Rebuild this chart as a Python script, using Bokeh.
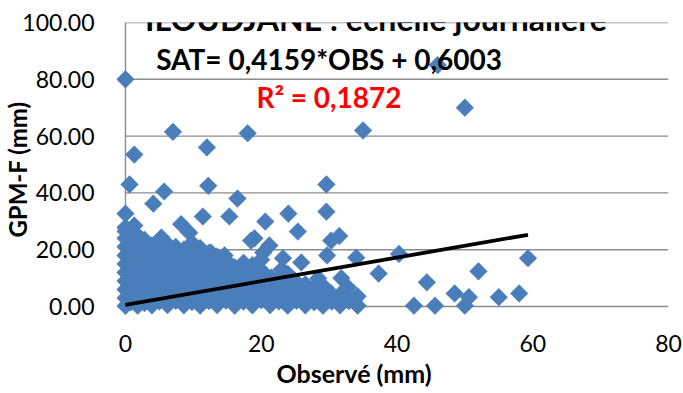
import numpy as np
from bokeh.plotting import figure
from bokeh.models import Range1d, Label, NumeralTickFormatter, FixedTicker, ColumnDataSource, Title
from bokeh.embed import file_html
from bokeh.resources import INLINE

# ---------------- data ----------------
TITLE = "ILOUDJANE : échelle journalière"
X_LABEL = "Observé (mm)"
Y_LABEL = "GPM-F (mm)"
EQ_TEXT = "SAT= 0,4159*OBS + 0,6003"
R2_TEXT = "R² = 0,1872"
SLOPE = 0.4159
INTERCEPT = 0.6003
X_TICKS = [0, 20, 40, 60, 80]
Y_TICKS = [0, 20, 40, 60, 80, 100]

# isolated points
obs_outer = [0, 46, 50, 35, 7, 18, 12, 1.3, 0.6, 29.6, 12.2, 5.7, 16.5, 4.1, 0, 15.3, 24, 29.6,
             20.6, 25.4, 8.2, 11.4, 9.4, 19, 21.2, 31.5, 30.3, 29.7, 34, 37.3, 40.3, 25.9, 23.2,
             23, 31.8, 33.7, 30.3, 44.4, 42.5, 45.6, 48.5, 50.6, 50, 52, 55, 58, 59.3, 20.3,
             32.8, 28.4, 27.6, 24.9, 21.5, 0, 1.3, 5.3, 18.5, 12.6, 14.6]
sat_outer = [80, 85, 70, 62, 61.5, 61, 56, 53.5, 43, 43, 42.5, 40.5, 38, 36.2, 32.7, 31.7, 32.7, 33.4,
             29.9, 26.4, 29, 31.7, 26, 24, 21.5, 24.8, 23.2, 18, 17.2, 11.6, 18.5, 15.5, 17,
             13, 10, 2.5, 4.6, 8.5, 0.3, 0.3, 4.6, 3.3, 0.3, 12.4, 3.3, 4.6, 17, 19,
             6.7, 9.9, 6.3, 9.2, 10.2, 27.8, 28.5, 24.3, 23.2, 19, 18]

# dense cluster near the origin (column by column)
obs_dense = [0, 0, 0, 0, 0, 0, 0, 0, 0, 0,
             0.8, 0.8, 0.8, 0.8, 0.8, 0.8, 0.8, 0.8,
             1.8, 1.8, 1.8, 1.8, 1.8, 1.8, 1.8, 1.8, 1.8,
             2.8, 2.8, 2.8, 2.8, 2.8, 2.8, 2.8, 2.8,
             3.9, 3.9, 3.9, 3.9, 3.9, 3.9, 3.9, 3.9,
             5.0, 5.0, 5.0, 5.0, 5.0, 5.0, 5.0, 5.0,
             6.2, 6.2, 6.2, 6.2, 6.2, 6.2, 6.2, 6.2,
             7.4, 7.4, 7.4, 7.4, 7.4, 7.4, 7.4,
             8.6, 8.6, 8.6, 8.6, 8.6, 8.6, 8.6,
             9.8, 9.8, 9.8, 9.8, 9.8, 9.8, 9.8,
             11, 11, 11, 11, 11, 11, 11,
             12.3, 12.3, 12.3, 12.3, 12.3, 12.3,
             13.5, 13.5, 13.5, 13.5, 13.5, 13.5,
             14.8, 14.8, 14.8, 14.8, 14.8,
             16.1, 16.1, 16.1, 16.1, 16.1,
             17.4, 17.4, 17.4, 17.4, 17.4,
             18.7, 18.7, 18.7, 18.7, 18.7,
             20, 20, 20, 20, 20,
             21.3, 21.3, 21.3,
             22.6, 22.6, 22.6,
             23.9, 23.9, 23.9, 23.9,
             25.2, 25.2,
             26.5, 26.5, 26.5,
             27.8, 27.8,
             29.1, 29.1, 29.1,
             30.4,
             31.6, 31.6,
             32.9,
             34.2, 34.2]
sat_dense = [0.2, 3, 6, 9, 12, 15, 18, 21, 24, 26.5,
             1.5, 5, 8.5, 11, 14, 17.5, 20, 23,
             0.3, 3.5, 7, 10, 13, 16, 19, 22, 25,
             1.2, 4.8, 8, 11.5, 14.5, 17, 20.5, 23.5,
             0.4, 3, 6.5, 9.5, 12.5, 15.5, 18.5, 21.5,
             1.8, 5.2, 8.3, 11.2, 14, 17.2, 20.3, 22.8,
             0.5, 3.8, 7.1, 10.4, 13.3, 16.1, 19.4, 21.9,
             2, 5.5, 8.8, 12, 15, 18.2, 21,
             0.4, 3.6, 7, 10.2, 13.6, 16.7, 20,
             1.6, 5, 8.4, 11.8, 15.2, 18.8, 22.4,
             0.3, 3.4, 6.6, 9.9, 13.1, 16.4, 20.6,
             1.9, 5.3, 8.6, 12.2, 15.8, 18.9,
             0.5, 3.7, 7.2, 10.7, 14, 17.6,
             2.1, 5.6, 9.1, 12.6, 16.3,
             0.3, 3.5, 6.9, 10.3, 13.8,
             1.7, 5.1, 8.4, 11.9, 15.4,
             0.4, 3.9, 7.5, 11.1, 14.6,
             2.2, 5.8, 9.3, 12.8, 16.5,
             0.5, 4, 7.6,
             1.8, 5.4, 9.6,
             0.3, 3.6, 7.2, 11.5,
             2, 5.9,
             0.4, 3.8, 7.8,
             1.5, 5.2,
             0.3, 3.2, 7.3,
             1.7,
             0.4, 4.2,
             1.9,
             0.3, 3.6]

obs = obs_dense + obs_outer
sat = sat_dense + sat_outer

# ---------------- styles ----------------
BLUE = "#4A7EBB"
GRID = "#8C8C8C"
FONT = "Lato"

p = figure(width=683, height=393, output_backend="svg", toolbar_location=None,
           x_range=Range1d(-1.32, 80), y_range=Range1d(-3.52, 100),
           min_border_left=115, min_border_right=15, min_border_top=22, min_border_bottom=77)
p.outline_line_color = None
p.xgrid.visible = False
p.ygrid.visible = False
p.background_fill_color = "white"
p.border_fill_color = "white"

# horizontal gridlines from the tick list, spanning the axis extent
n = len(Y_TICKS)
p.segment(x0=[X_TICKS[0]] * n, y0=Y_TICKS, x1=[X_TICKS[-1]] * n, y1=Y_TICKS,
          line_color=GRID, line_width=1.4)
# value-axis line
p.segment(x0=[X_TICKS[0]], y0=[Y_TICKS[0]], x1=[X_TICKS[0]], y1=[Y_TICKS[-1]],
          line_color=GRID, line_width=1.4)

src = ColumnDataSource(dict(obs=obs, sat=sat))
p.scatter("obs", "sat", source=src, marker="square", angle=np.pi / 4, size=12.5,
          fill_color=BLUE, line_color=BLUE, line_width=0.5)

xmax = max(obs)
p.line([0, xmax], [INTERCEPT, SLOPE * xmax + INTERCEPT], line_color="black", line_width=3.8)

for ax in (p.xaxis, p.yaxis):
    ax.axis_line_color = None
    ax.major_tick_line_color = None
    ax.minor_tick_line_color = None
    ax.major_label_text_font = FONT
    ax.major_label_text_font_size = "23px"
    ax.major_label_text_color = "black"
    ax.axis_label_text_font = FONT
    ax.axis_label_text_font_style = "bold"
    ax.axis_label_text_font_size = "24px"
    ax.axis_label_text_color = "black"
p.xaxis.ticker = FixedTicker(ticks=X_TICKS)
p.yaxis.ticker = FixedTicker(ticks=Y_TICKS)
p.yaxis.formatter = NumeralTickFormatter(format="0.00")
p.yaxis.major_label_standoff = 16
p.xaxis.major_label_standoff = 12
p.yaxis.axis_label = Y_LABEL
p.yaxis.axis_label_standoff = -13

p.add_layout(Title(text=X_LABEL, align="left", offset=160, standoff=3,
                   text_font=FONT, text_font_style="bold", text_font_size="25px",
                   text_color="black"), "below")

def lab(x, y, text, size, color="black", baseline="middle"):
    p.add_layout(Label(x=x, y=y, text=text, text_font=FONT, text_font_style="bold",
                       text_font_size=size, text_color=color, text_align="center",
                       text_baseline=baseline))

lab(36.9, 101.4, TITLE, "32px", baseline="alphabetic")
lab(30, 87.3, EQ_TEXT, "28px")
lab(30, 73.6, R2_TEXT, "28px", color="#FF0000")

open("out.html", "w").write(file_html(p, INLINE))
